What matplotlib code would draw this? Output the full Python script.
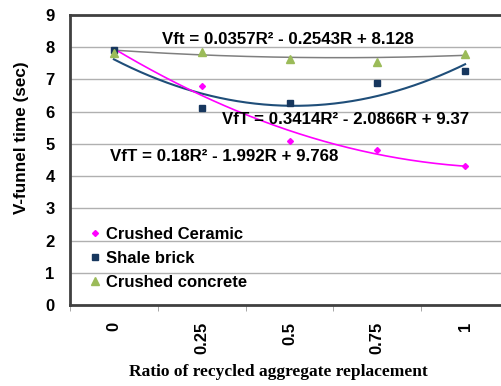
import numpy as np
import matplotlib.pyplot as plt

categories = ["0", "0.25", "0.5", "0.75", "1"]
ceramic = [7.9, 6.8, 5.1, 4.8, 4.3]
shale = [7.9, 6.1, 6.27, 6.9, 7.27]
concrete = [7.83, 7.86, 7.65, 7.55, 7.8]

# quadratic trendlines (R = category index 1..5)
fit_ceramic = [0.18, -1.992, 9.768]
fit_shale = [0.3414, -2.0866, 9.37]
fit_concrete = [0.0357, -0.2543, 8.128]

fig = plt.figure(figsize=(5.01, 3.86), dpi=100)
ax = fig.add_axes([70 / 501, 81 / 386, 439 / 501, 290 / 386])

R = np.arange(1, len(categories) + 1)
Rs = np.linspace(1, 5, 200)

ax.plot(Rs, np.polyval(fit_concrete, Rs), color="#7f7f7f", lw=1.1, zorder=2)
ax.plot(Rs, np.polyval(fit_shale, Rs), color="#1f4e79", lw=1.5, zorder=2)
ax.plot(Rs, np.polyval(fit_ceramic, Rs), color="#ff00ff", lw=1.2, zorder=2)

ax.plot(R, ceramic, ls="none", marker="D", ms=3, color="#ff00ff",
        label="Crushed Ceramic", zorder=3)
ax.plot(R, shale, ls="none", marker="s", ms=4.5, color="#17375e",
        label="Shale brick", zorder=3)
ax.plot(R, concrete, ls="none", marker="^", ms=5.5, color="#9bbb59",
        label="Crushed concrete", zorder=4)

ax.set_xlim(0.5, 5.5)
ax.set_ylim(0, 9)
ax.set_yticks(range(10))
ax.set_xticks(R)
ax.set_xticklabels(categories, rotation=90, fontsize=12, fontweight="bold",
                   family="Liberation Sans")
ax.set_xticks(np.arange(0.5, 6, 1), minor=True)
ax.tick_params(axis="x", which="major", length=0, pad=12)
ax.tick_params(axis="x", which="minor", length=4, color="#999999")
ax.tick_params(axis="y", length=0, pad=11)
for lb in ax.get_yticklabels():
    lb.set_fontsize(12)
    lb.set_fontweight("bold")
    lb.set_family("Liberation Sans")

ax.grid(axis="y", color="#b0b0b0", lw=1)
ax.set_axisbelow(True)
for s in ["left", "bottom", "top"]:
    ax.spines[s].set_color("#404040")
    ax.spines[s].set_linewidth(2)
ax.spines["right"].set_visible(False)

eq = dict(fontsize=12.2, fontweight="bold", family="Liberation Sans",
          va="center")
ax.text(1.55, 8.23, "Vft = 0.0357R² - 0.2543R + 8.128", **eq)
ax.text(2.23, 5.75, "VfT = 0.3414R² - 2.0866R + 9.37", **eq)
ax.text(0.96, 4.6, "VfT = 0.18R² - 1.992R + 9.768", **eq)

ax.legend(loc="lower left", bbox_to_anchor=(0.013, 0.0), frameon=False,
          handlelength=0.5, handletextpad=0.4, labelspacing=0.55,
          prop=dict(size=12, weight="bold", family="Liberation Sans"))

fig.text(22 / 501, 1 - 138 / 386, "V-funnel time (sec)", rotation=90,
         ha="center", va="center", fontsize=12.3, fontweight="bold",
         family="Liberation Sans")
fig.text(278 / 501, 1 - 372 / 386, "Ratio of recycled aggregate replacement",
         ha="center", va="center", fontsize=12.5, fontweight="bold",
         family="Liberation Serif")

fig.savefig("out.png", dpi=100)
